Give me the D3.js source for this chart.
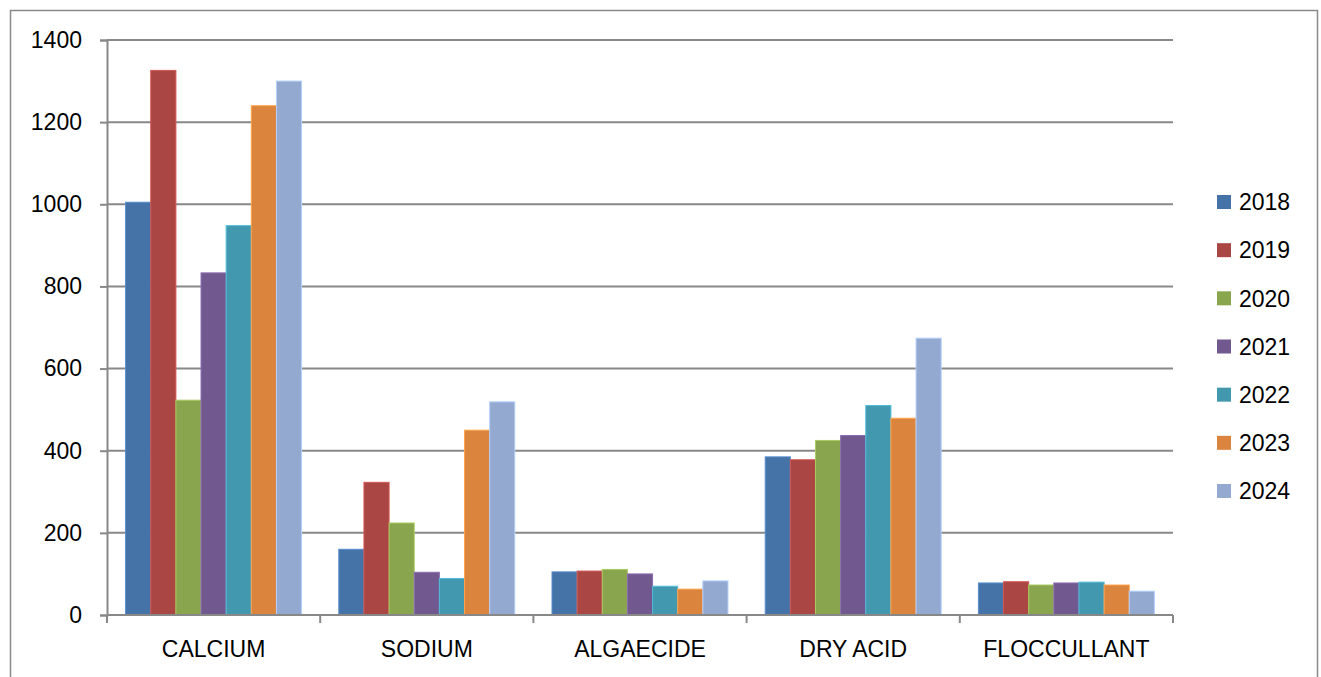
<!DOCTYPE html>
<html>
<head>
<meta charset="utf-8">
<script src="https://cdn.jsdelivr.net/npm/d3@7"></script>
<style>
  html, body { margin: 0; padding: 0; background: #fff; }
  svg { display: block; }
  text { font-family: "Liberation Sans", Arial, sans-serif; fill: #000; }
</style>
</head>
<body>
<svg id="chart" width="1321" height="677"></svg>
<script>
// Chemical usage by product and year
const categories = ["CALCIUM", "SODIUM", "ALGAECIDE", "DRY ACID", "FLOCCULLANT"];
const years = ["2018", "2019", "2020", "2021", "2022", "2023", "2024"];
const colors = ["#4572A7", "#AA4643", "#89A54E", "#71588F", "#4198AF", "#DB843D", "#93A9CF"];

// one array per year, in category order
const v2018 = [1005, 160, 105, 385, 78];
const v2019 = [1326, 323, 107, 378, 81];
const v2020 = [523, 224, 111, 425, 73];
const v2021 = [833, 104, 100, 437, 78];
const v2022 = [948, 89, 70, 510, 80];
const v2023 = [1240, 450, 63, 479, 73];
const v2024 = [1300, 519, 83, 674, 58];
const series = [v2018, v2019, v2020, v2021, v2022, v2023, v2024];

const yTicks = [0, 200, 400, 600, 800, 1000, 1200, 1400];

const svg = d3.select("#chart");
const plot = { left: 107, right: 1173, top: 40, bottom: 615 };
const gridColor = "#888888";
const fontSize = 23;

// outer frame
svg.append("rect")
  .attr("x", 10.5).attr("y", 10.5)
  .attr("width", 1307).attr("height", 700)
  .attr("fill", "none").attr("stroke", "#8a8a8a").attr("stroke-width", 1.5);

const y = d3.scaleLinear().domain([0, 1400]).range([plot.bottom, plot.top]);
const x0 = d3.scaleBand().domain(categories).range([plot.left, plot.right]).padding(0);
const x1 = d3.scaleBand().domain(years).range([0, x0.bandwidth()])
  .paddingInner(0).paddingOuter(0.74);

// horizontal gridlines
svg.append("g")
  .selectAll("line")
  .data(yTicks.filter(d => d > 0))
  .join("line")
  .attr("x1", plot.left).attr("x2", plot.right)
  .attr("y1", d => y(d)).attr("y2", d => y(d))
  .attr("stroke", gridColor).attr("stroke-width", 2);

// y axis
const yAxis = svg.append("g")
  .attr("transform", `translate(${plot.left},0)`)
  .call(d3.axisLeft(y).tickValues(yTicks).tickSize(7).tickPadding(18).tickFormat(d3.format("d")));
yAxis.select(".domain").attr("stroke", gridColor).attr("stroke-width", 2);
yAxis.selectAll(".tick line").attr("stroke", gridColor).attr("stroke-width", 2);
yAxis.selectAll(".tick text").attr("font-size", fontSize).attr("fill", "#000")
  .attr("font-family", "'Liberation Sans', Arial, sans-serif");

// bars
const groups = svg.append("g")
  .selectAll("g")
  .data(years)
  .join("g")
  .attr("fill", (d, i) => colors[i])
  .attr("stroke", (d, i) => d3.color(colors[i]).brighter(0.6))
  .attr("stroke-width", 1);

groups.selectAll("rect")
  .data((yr, i) => categories.map((c, j) => ({ cat: c, year: yr, value: series[i][j] })))
  .join("rect")
  .attr("x", d => x0(d.cat) + x1(d.year))
  .attr("width", x1.bandwidth())
  .attr("y", d => y(d.value))
  .attr("height", d => plot.bottom - y(d.value));

// category axis
const xAxis = svg.append("g")
  .attr("transform", `translate(0,${plot.bottom})`);
xAxis.append("line")
  .attr("x1", plot.left).attr("x2", plot.right)
  .attr("stroke", gridColor).attr("stroke-width", 2);
xAxis.selectAll("line.tick")
  .data(categories.map(c => x0(c)).concat([plot.right]))
  .join("line")
  .attr("class", "tick")
  .attr("x1", d => d).attr("x2", d => d)
  .attr("y1", 0).attr("y2", 8)
  .attr("stroke", gridColor).attr("stroke-width", 2);
xAxis.selectAll("text")
  .data(categories)
  .join("text")
  .attr("x", d => x0(d) + x0.bandwidth() / 2)
  .attr("y", 42)
  .attr("text-anchor", "middle")
  .attr("font-size", fontSize)
  .text(d => d);

// legend
const legend = svg.append("g");
const legendY = d3.scalePoint().domain(years).range([202, 491]);
legend.selectAll("rect")
  .data(years)
  .join("rect")
  .attr("x", 1217)
  .attr("y", d => legendY(d) - 7)
  .attr("width", 14).attr("height", 14)
  .attr("fill", (d, i) => colors[i]);
legend.selectAll("text")
  .data(years)
  .join("text")
  .attr("x", 1239)
  .attr("y", d => legendY(d))
  .attr("dy", "0.36em")
  .attr("font-size", fontSize)
  .text(d => d);
</script>
</body>
</html>
